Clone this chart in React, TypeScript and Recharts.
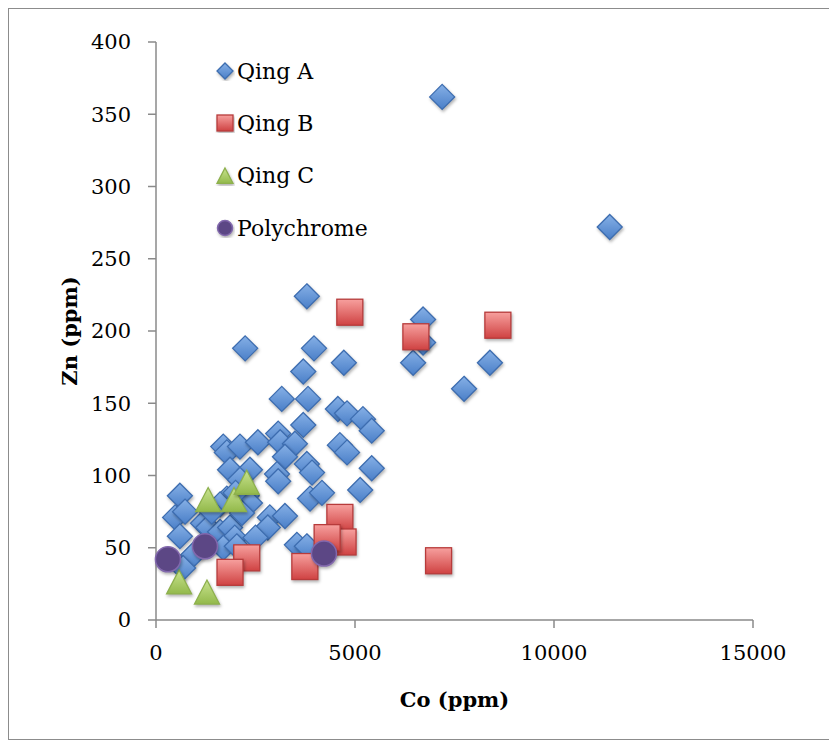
import React from "react";
import {
  ScatterChart,
  Scatter,
  XAxis,
  YAxis,
  Legend,
} from "recharts";

// Co (ppm) vs Zn (ppm)
const qingA = [
  [7190, 362], [11400, 272], [3790, 224], [2240, 188], [3970, 188],
  [3700, 172], [4720, 178], [6710, 208], [6710, 192], [6460, 178],
  [8390, 178], [7740, 160], [3160, 153], [3820, 153], [3700, 135],
  [4570, 146], [4800, 143], [5200, 139], [5420, 131], [1690, 120],
  [1780, 116], [2110, 120], [2560, 123], [3070, 129], [3120, 123],
  [3490, 122], [3240, 113], [4620, 121], [4800, 116], [1860, 104],
  [2360, 104], [2110, 97], [3040, 101], [3070, 96], [3790, 108],
  [3920, 102], [5420, 105], [5130, 90], [3870, 84], [4170, 88],
  [600, 86], [480, 71], [730, 75], [600, 58], [2860, 71],
  [3240, 72], [2810, 64], [1780, 84], [2280, 86], [2360, 81],
  [1610, 80], [1180, 67], [1310, 64], [1610, 61], [1860, 64],
  [1980, 57], [1690, 50], [930, 45], [680, 36], [2030, 51],
  [3540, 52], [3790, 51], [2160, 74], [1400, 75], [2500, 57],
  [2000, 88],
].map(([x, y]) => ({ x, y }));

const qingB = [
  [4870, 213], [6530, 196], [8590, 204], [7100, 41], [4620, 71],
  [4700, 54], [4300, 57], [3740, 37], [2280, 43], [1860, 33],
].map(([x, y]) => ({ x, y }));

const qingC = [
  [1310, 83], [1960, 83], [2280, 95], [580, 26], [1280, 19],
].map(([x, y]) => ({ x, y }));

const polychrome = [
  [300, 42], [1230, 51], [4220, 46],
].map(([x, y]) => ({ x, y }));

const xTicks = [0, 5000, 10000, 15000];
const yTicks = [0, 50, 100, 150, 200, 250, 300, 350, 400];

const FONT = "'DejaVu Serif', serif";
const AXIS = "#8a8a8a";
const shadow = "drop-shadow(1px 2px 1.5px rgba(0,0,0,0.3))";

function Diamond({ cx, cy, r = 12.5 }: any) {
  return (
    <path
      d={`M${cx},${cy - r}L${cx + r},${cy}L${cx},${cy + r}L${cx - r},${cy}Z`}
      fill="url(#gBlue)"
      stroke="#3d6db0"
      strokeWidth={1.3}
      style={{ filter: shadow }}
    />
  );
}

function Square({ cx, cy, r = 13 }: any) {
  return (
    <rect
      x={cx - r}
      y={cy - r}
      width={2 * r}
      height={2 * r}
      fill="url(#gRed)"
      stroke="#b73b3b"
      strokeWidth={1.3}
      style={{ filter: shadow }}
    />
  );
}

function Triangle({ cx, cy, r = 12.5 }: any) {
  return (
    <path
      d={`M${cx},${cy - r}L${cx + r},${cy + r * 0.92}L${cx - r},${cy + r * 0.92}Z`}
      fill="url(#gGreen)"
      stroke="#8db04c"
      strokeWidth={1.3}
      style={{ filter: shadow }}
    />
  );
}

function Circle({ cx, cy, r = 12.5 }: any) {
  return (
    <circle
      cx={cx}
      cy={cy}
      r={r}
      fill="#5c4785"
      stroke="#8268ad"
      strokeWidth={1.5}
      style={{ filter: shadow }}
    />
  );
}

const legendItems = [
  { name: "Qing A", Shape: Diamond, r: 8 },
  { name: "Qing B", Shape: Square, r: 8 },
  { name: "Qing C", Shape: Triangle, r: 8 },
  { name: "Polychrome", Shape: Circle, r: 7.5 },
];

function renderLegend() {
  return (
    <div style={{ fontFamily: FONT, fontSize: 22, color: "#000" }}>
      {legendItems.map(({ name, Shape, r }) => (
        <div
          key={name}
          style={{ height: 52.3, display: "flex", alignItems: "center" }}
        >
          <svg width={20} height={20} style={{ marginRight: 2 }}>
            <Shape cx={10} cy={10} r={r} />
          </svg>
          <span>{name}</span>
        </div>
      ))}
    </div>
  );
}

export default function App() {
  return (
    <div
      style={{
        width: 826,
        height: 730,
        border: "1px solid #8c8c8c",
        background: "#fff",
        position: "relative",
      }}
    >
      <svg width={0} height={0} style={{ position: "absolute" }}>
        <defs>
          <linearGradient id="gBlue" x1="0" y1="0" x2="0" y2="1">
            <stop offset="0%" stopColor="#86b0e6" />
            <stop offset="100%" stopColor="#4a7fc8" />
          </linearGradient>
          <linearGradient id="gRed" x1="0" y1="0" x2="0" y2="1">
            <stop offset="0%" stopColor="#f7a09e" />
            <stop offset="100%" stopColor="#cf4242" />
          </linearGradient>
          <linearGradient id="gGreen" x1="0" y1="0" x2="0" y2="1">
            <stop offset="0%" stopColor="#c8e38f" />
            <stop offset="100%" stopColor="#93b94b" />
          </linearGradient>
        </defs>
      </svg>
      <ScatterChart
        width={824}
        height={728}
        margin={{ top: 33, right: 80, bottom: 22, left: 67 }}
      >
        <XAxis
          type="number"
          dataKey="x"
          domain={[0, 15000]}
          ticks={xTicks}
          height={95}
          stroke={AXIS}
          strokeWidth={1.5}
          tickSize={8}
          tickMargin={17}
          tick={{ fill: "#000", fontFamily: FONT, fontSize: 21 }}
          label={{
            value: "Co (ppm)",
            position: "insideBottom",
            offset: 8,
            style: { fill: "#000", fontFamily: FONT, fontSize: 21, fontWeight: "bold" },
          }}
        />
        <YAxis
          type="number"
          dataKey="y"
          domain={[0, 400]}
          ticks={yTicks}
          width={80}
          stroke={AXIS}
          strokeWidth={1.5}
          tickSize={8}
          tickMargin={17}
          tick={{ fill: "#000", fontFamily: FONT, fontSize: 21 }}
          label={{
            value: "Zn (ppm)",
            angle: -90,
            position: "insideLeft",
            offset: -6,
            style: {
              fill: "#000",
              fontFamily: FONT,
              fontSize: 21,
              fontWeight: "bold",
              textAnchor: "middle",
            },
          }}
        />
        <Legend
          layout="vertical"
          align="center"
          verticalAlign="middle"
          content={renderLegend}
          wrapperStyle={{ left: 206, top: 36, width: 200 }}
        />
        <Scatter name="Qing A" data={qingA} shape={<Diamond />} isAnimationActive={false} />
        <Scatter name="Qing B" data={qingB} shape={<Square />} isAnimationActive={false} />
        <Scatter name="Qing C" data={qingC} shape={<Triangle />} isAnimationActive={false} />
        <Scatter name="Polychrome" data={polychrome} shape={<Circle />} isAnimationActive={false} />
      </ScatterChart>
    </div>
  );
}
